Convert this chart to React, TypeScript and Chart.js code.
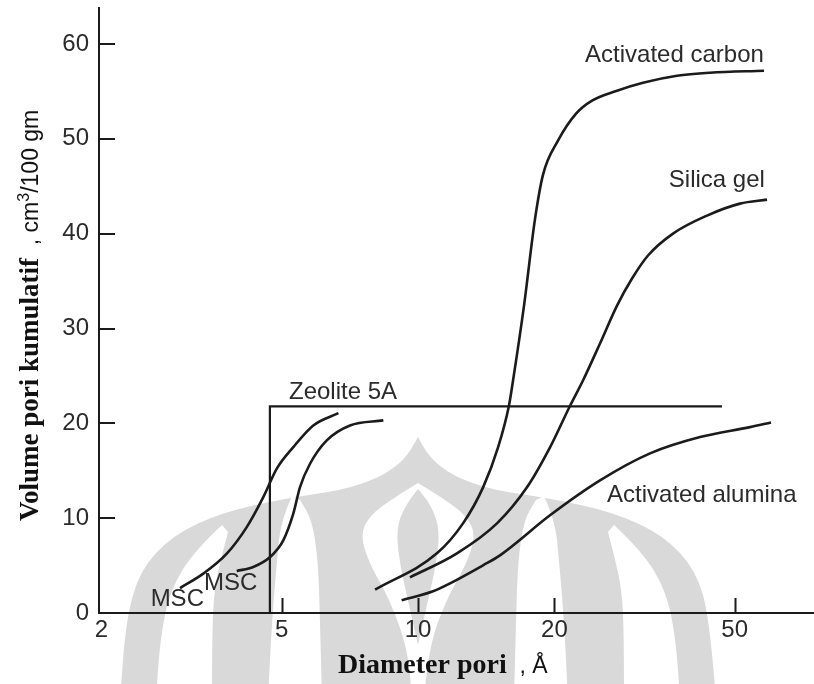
import React, { useEffect, useRef } from 'react';
import { Chart, registerables } from 'chart.js';

Chart.register(...registerables);

// Axis ticks
const xTickValues = [2, 5, 10, 20, 50];
const yTickValues = [0, 10, 20, 30, 40, 50, 60];

// Pore diameter (Å) / cumulative pore volume (cm³/100 gm)
const carbonX = [8.04, 11.01, 12.57, 13.92, 15.02, 15.88, 16.21, 17.14, 18.13, 18.88, 20.37, 22.33, 24.22, 27.5, 31.38, 37.3, 44.12, 58.04];
const carbonY = [2.47, 6.29, 9.45, 13.25, 17.46, 21.89, 24.52, 32.42, 41.59, 46.23, 49.81, 52.66, 54.03, 55.08, 55.92, 56.66, 56.98, 57.19];

const silicaX = [9.6, 12.19, 14.94, 17.4, 19.56, 21.66, 23.13, 25.22, 27.5, 29.68, 32.19, 36.55, 43.45, 51.38, 58.94];
const silicaY = [3.76, 6.29, 9.45, 13.25, 17.46, 21.86, 24.52, 28.42, 32.42, 35.27, 37.7, 40.01, 41.91, 43.17, 43.59];

const aluminaX = [9.2, 10.79, 11.77, 13.92, 15.17, 19.56, 25.22, 32.52, 41.94, 54.06, 60.15];
const aluminaY = [1.34, 2.29, 3.13, 5.03, 6.08, 10.3, 13.98, 16.83, 18.55, 19.6, 20.09];

const msc1X = [2.983, 3.357, 3.783, 4.187, 4.555, 4.878, 5.305, 5.873, 6.673];
const msc1Y = [2.63, 4.15, 6.26, 9.06, 12.22, 15.22, 17.49, 19.78, 21.07];

const msc2X = [3.979, 4.329, 4.714, 5.042, 5.305, 5.489, 5.776, 6.288, 7.077, 8.384];
const msc2Y = [4.43, 4.85, 5.9, 7.66, 10.47, 13.28, 15.74, 18.2, 19.78, 20.31];

const zeoliteX = [4.71, 4.71, 46.9];
const zeoliteY = [0, 21.8, 21.8];

// Curve labels (text, anchor x, anchor y)
const labelTexts = ['Activated carbon', 'Silica gel', 'Zeolite 5A', 'Activated alumina', 'MSC', 'MSC'];
const labelX = [58.0, 58.3, 5.19, 26.14, 2.569, 3.37];
const labelY = [58.1, 44.96, 22.62, 11.66, 0.71, 2.39];
const labelAlign = ['right', 'right', 'left', 'left', 'left', 'left'];

const zip = (xs: number[], ys: number[]) => xs.map((x, i) => ({ x, y: ys[i] }));

const LINE = '#1b1b1b';
const TEXT = '#2b2b2b';
const SANS = '"Liberation Sans", Arial, sans-serif';
const SERIF = '"Liberation Serif", "Times New Roman", serif';

// background watermark (decorative, canvas pixel geometry)
const WM_CX = 418;
const WM_GRAY = '#d9d9d9';
const wmSilhouette = [[0, 437], [-8, 452], [-20, 465], [-40, 478], [-75, 490], [-130, 498], [-195, 512], [-245, 535], [-278, 570], [-292, 620], [-298, 700]];
const wmTulip = [[0, 483], [-23, 497], [-48, 515], [-58, 535], [-48, 565], [-28, 600], [-10, 650], [-6, 700]];
const wmSpike = [[0, 489], [-13, 505], [-22, 530], [-18, 565], [-9, 605], [0, 645]];
const wmCrescentInner = [[292, 496], [281, 520], [277, 560], [272, 620], [268, 700], [322, 700], [320, 620], [318, 560], [312, 520], [300, 500]];
const wmCrescentOuter = [[222, 525], [195, 550], [170, 590], [160, 640], [156, 700], [212, 700], [212, 640], [214, 590], [222, 555], [228, 532]];

function smoothOpen(ctx: CanvasRenderingContext2D, p: number[][], first: boolean) {
  if (first) ctx.moveTo(p[0][0], p[0][1]);
  else ctx.lineTo(p[0][0], p[0][1]);
  for (let i = 1; i < p.length - 1; i++) {
    const mx = (p[i][0] + p[i + 1][0]) / 2;
    const my = (p[i][1] + p[i + 1][1]) / 2;
    ctx.quadraticCurveTo(p[i][0], p[i][1], mx, my);
  }
  ctx.lineTo(p[p.length - 1][0], p[p.length - 1][1]);
}

function drawArch(ctx: CanvasRenderingContext2D, pts: number[][]) {
  const left = pts.map(([dx, y]) => [WM_CX + dx, y]);
  const right = pts.slice().reverse().map(([dx, y]) => [WM_CX - dx, y]);
  ctx.beginPath();
  smoothOpen(ctx, left, true);
  smoothOpen(ctx, right, false);
  ctx.closePath();
  ctx.fill();
}

function drawBlob(ctx: CanvasRenderingContext2D, pts: number[][], mirror: boolean) {
  const p = pts.map(([x, y]) => [mirror ? 2 * WM_CX - x : x, y]);
  const half = p.length / 2;
  ctx.beginPath();
  smoothOpen(ctx, p.slice(0, half), true);
  smoothOpen(ctx, p.slice(half), false);
  ctx.closePath();
  ctx.fill();
}

export default function App() {
  const canvasRef = useRef<HTMLCanvasElement | null>(null);

  useEffect(() => {
    document.body.style.margin = '0';
    const canvas = canvasRef.current;
    if (!canvas) return;

    const curve = (data: any[]) => ({
      data,
      borderColor: LINE,
      borderWidth: 2.6,
      pointRadius: 0,
      fill: false,
      cubicInterpolationMode: 'monotone' as const,
    });

    const watermark = {
      id: 'watermark',
      beforeDraw(chart: any) {
        const { ctx } = chart;
        ctx.save();
        ctx.fillStyle = '#ffffff';
        ctx.fillRect(0, 0, chart.width, chart.height);
        ctx.fillStyle = WM_GRAY;
        drawArch(ctx, wmSilhouette);
        ctx.fillStyle = '#ffffff';
        drawArch(ctx, wmTulip);
        drawBlob(ctx, wmCrescentInner, false);
        drawBlob(ctx, wmCrescentInner, true);
        drawBlob(ctx, wmCrescentOuter, false);
        drawBlob(ctx, wmCrescentOuter, true);
        ctx.fillStyle = WM_GRAY;
        drawArch(ctx, wmSpike);
        ctx.restore();
      },
    };

    const overlay = {
      id: 'overlay',
      afterDraw(chart: any) {
        const { ctx } = chart;
        const xs = chart.scales.x;
        const ys = chart.scales.y;
        ctx.save();
        // inward ticks
        ctx.strokeStyle = LINE;
        ctx.lineWidth = 2;
        ctx.beginPath();
        xTickValues.forEach((v) => {
          if (v <= xs.min * 1.02) return;
          const px = Math.round(xs.getPixelForValue(v)) + 0.5;
          ctx.moveTo(px, ys.bottom);
          ctx.lineTo(px, ys.bottom - 15);
        });
        yTickValues.forEach((v) => {
          if (v <= 0) return;
          const py = Math.round(ys.getPixelForValue(v));
          ctx.moveTo(xs.left, py);
          ctx.lineTo(xs.left + 16, py);
        });
        ctx.stroke();

        // curve labels
        ctx.fillStyle = TEXT;
        ctx.font = `24px ${SANS}`;
        ctx.textBaseline = 'alphabetic';
        labelTexts.forEach((t, i) => {
          ctx.textAlign = labelAlign[i] as CanvasTextAlign;
          ctx.fillText(t, xs.getPixelForValue(labelX[i]), ys.getPixelForValue(labelY[i]));
        });

        // x title
        ctx.textAlign = 'left';
        ctx.fillStyle = '#111';
        ctx.font = `bold 28px ${SERIF}`;
        const xt1 = 'Diameter pori';
        ctx.fillText(xt1, 338, 673);
        const w1 = ctx.measureText(xt1).width;
        ctx.font = `23px ${SANS}`;
        ctx.fillText('  , Å', 338 + w1, 673);

        // y title
        ctx.translate(38, 521);
        ctx.rotate(-Math.PI / 2);
        ctx.font = `bold 27px ${SERIF}`;
        const yt1 = 'Volume pori kumulatif';
        ctx.fillText(yt1, 0, 0);
        const w2 = ctx.measureText(yt1).width;
        ctx.font = `23px ${SANS}`;
        const yt2 = '  , cm';
        ctx.fillText(yt2, w2, 0);
        const w3 = ctx.measureText(yt2).width;
        ctx.font = `16px ${SANS}`;
        ctx.fillText('3', w2 + w3, -9);
        const w4 = ctx.measureText('3').width;
        ctx.font = `23px ${SANS}`;
        ctx.fillText('/100 gm', w2 + w3 + w4, 0);
        ctx.restore();
      },
    };

    const chart = new Chart(canvas, {
      type: 'line',
      data: {
        datasets: [
          curve(zip(carbonX, carbonY)),
          curve(zip(silicaX, silicaY)),
          curve(zip(aluminaX, aluminaY)),
          curve(zip(msc1X, msc1Y)),
          curve(zip(msc2X, msc2Y)),
          { ...curve(zip(zeoliteX, zeoliteY)), cubicInterpolationMode: 'default', tension: 0, borderWidth: 2.2 },
        ],
      },
      options: {
        responsive: false,
        animation: false,
        layout: { padding: { top: 8, left: 0, right: 0, bottom: 0 } },
        plugins: { legend: { display: false }, tooltip: { enabled: false } },
        scales: {
          x: {
            type: 'logarithmic',
            position: 'bottom',
            min: 1.976,
            max: 74.84,
            grid: { display: false, drawTicks: false },
            border: { display: true, color: LINE, width: 2 },
            afterBuildTicks: (s: any) => {
              s.ticks = xTickValues.map((v) => ({ value: v }));
            },
            afterFit: (s: any) => {
              s.height = 71;
              s.paddingLeft = 0;
              s.paddingRight = 0;
            },
            ticks: {
              autoSkip: false,
              maxRotation: 0,
              padding: 3,
              color: TEXT,
              font: { family: SANS, size: 24 },
              callback: (v: any) => String(v),
            },
          },
          y: {
            type: 'linear',
            min: 0,
            max: 63.8,
            grid: { display: false, drawTicks: false },
            border: { display: true, color: LINE, width: 2 },
            afterBuildTicks: (s: any) => {
              s.ticks = yTickValues.map((v) => ({ value: v }));
            },
            afterFit: (s: any) => {
              s.width = 99;
              s.paddingTop = 0;
              s.paddingBottom = 0;
            },
            ticks: {
              padding: 10,
              color: TEXT,
              font: { family: SANS, size: 24 },
              callback: (v: any) => String(v),
            },
          },
        },
      },
      plugins: [watermark, overlay],
    });

    return () => chart.destroy();
  }, []);

  return (
    <div style={{ position: 'absolute', left: 0, top: 0, width: 814, height: 684, background: '#fff' }}>
      <canvas ref={canvasRef} width={814} height={684} style={{ width: 814, height: 684, display: 'block' }} />
    </div>
  );
}
